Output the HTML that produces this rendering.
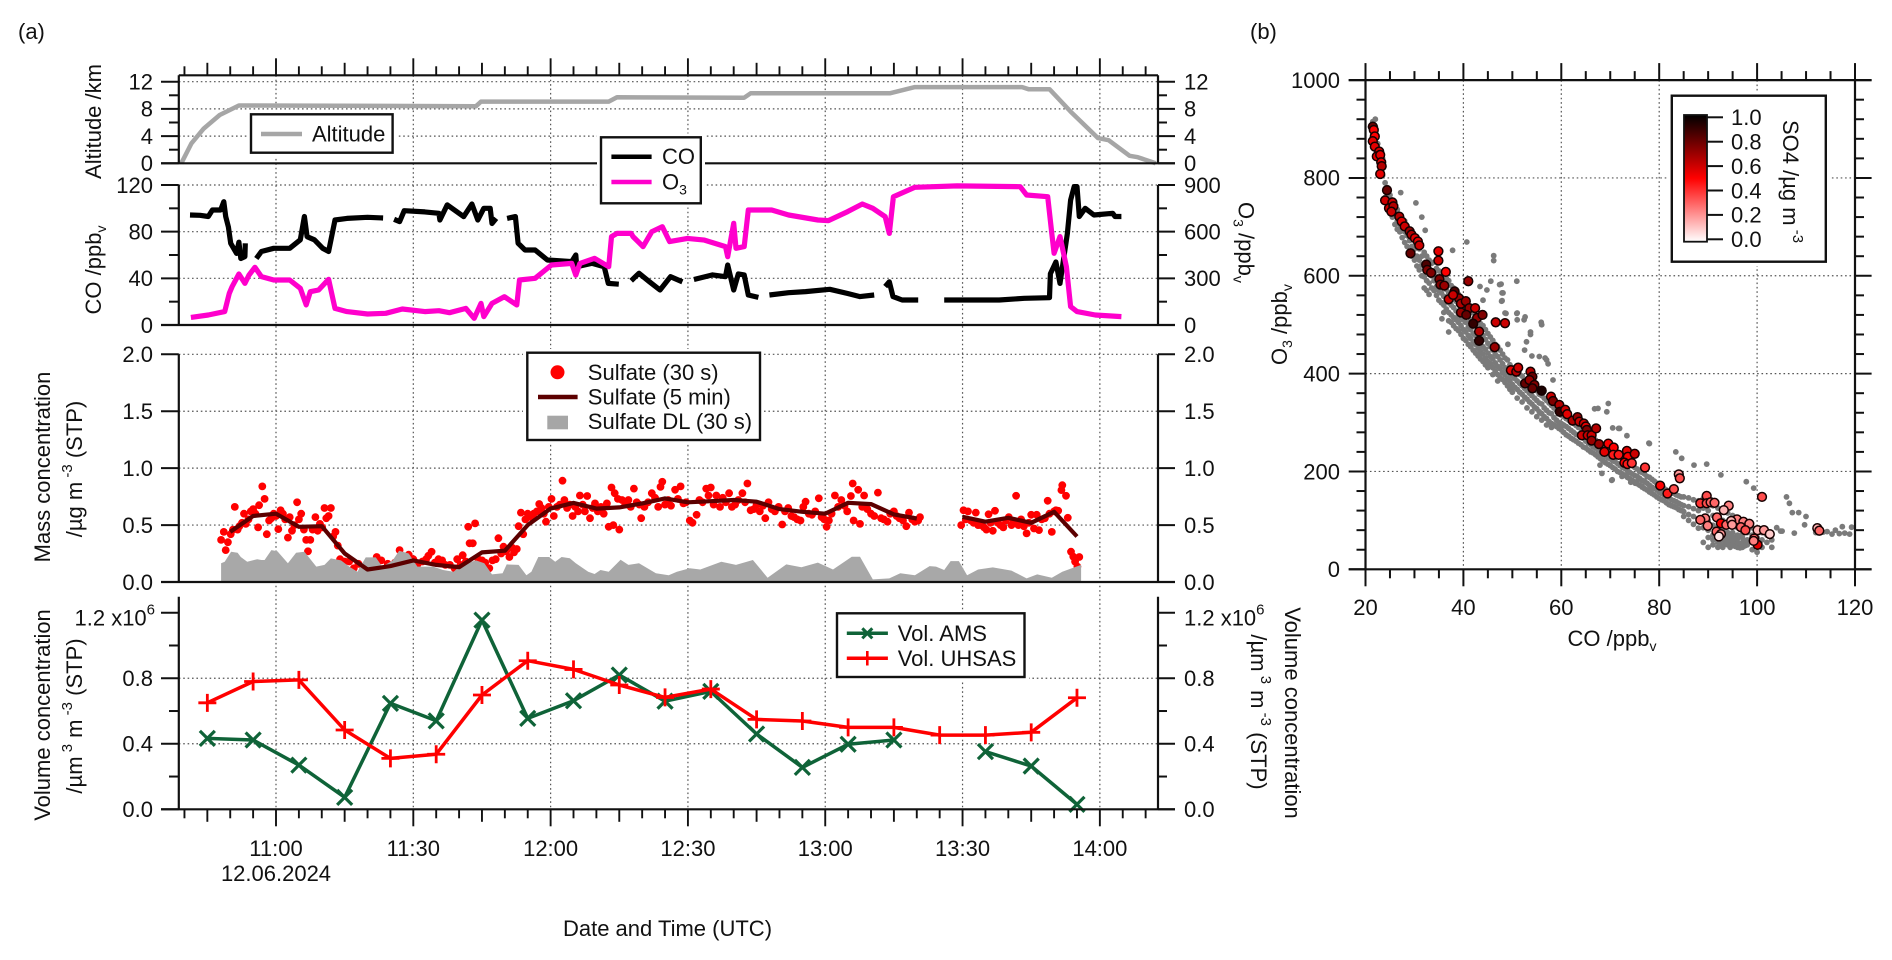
<!DOCTYPE html>
<html lang="en">
<head>
<meta charset="utf-8">
<title>Flight time series and CO-O3 scatter</title>
<style>
html,body{margin:0;padding:0;background:#fff;}
svg{display:block;font-family:"Liberation Sans",Arial,sans-serif;font-size:22px;fill:#111;}
.sub{font-size:14px;}
.sup{font-size:15px;}
.leg{fill:#fff;stroke:#111;stroke-width:2.4;}
.halo{fill:#fff;stroke:none;}
</style>
</head>
<body>
<svg id="chart" width="1892" height="960" viewBox="0 0 1892 960" xmlns="http://www.w3.org/2000/svg">
<rect width="1892" height="960" fill="#fff"/>
<g id="grid"></g>
<g id="marks"></g>
<g id="axes"></g>

<text x="18" y="39">(a)</text>
<text x="1250" y="39">(b)</text>

<text transform="translate(101,121.5) rotate(-90)" text-anchor="middle">Altitude /km</text>
<text transform="translate(101,270) rotate(-90)" text-anchor="middle">CO /ppb<tspan class="sub" dy="5">v</tspan></text>
<text transform="translate(1238.7,202) rotate(90)">O<tspan class="sub" dy="5">3</tspan><tspan dy="-5"> /ppb</tspan><tspan class="sub" dy="5">v</tspan></text>
<text transform="translate(50,467) rotate(-90)" text-anchor="middle">Mass concentration</text>
<text transform="translate(82,469) rotate(-90)" text-anchor="middle">/µg m<tspan class="sup" dy="-10"> -3</tspan><tspan dy="10">  (STP)</tspan></text>
<text transform="translate(50,715) rotate(-90)" text-anchor="middle">Volume concentration</text>
<text transform="translate(82,716) rotate(-90)" text-anchor="middle">/µm<tspan class="sup" dy="-10"> 3</tspan><tspan dy="10">  m</tspan><tspan class="sup" dy="-10"> -3</tspan><tspan dy="10">  (STP)</tspan></text>
<text transform="translate(1285,713) rotate(90)" text-anchor="middle">Volume concentration</text>
<text transform="translate(1251,712) rotate(90)" text-anchor="middle">/µm<tspan class="sup" dy="-10"> 3</tspan><tspan dy="10">  m</tspan><tspan class="sup" dy="-10"> -3</tspan><tspan dy="10">  (STP)</tspan></text>

<text x="74.5" y="625.5">1.2 x10<tspan class="sup" dy="-11">6</tspan></text>
<text x="1184" y="625.5">1.2 x10<tspan class="sup" dy="-11">6</tspan></text>

<text x="667.5" y="936" text-anchor="middle">Date and Time (UTC)</text>
<text x="276" y="881" text-anchor="middle">12.06.2024</text>

<text x="1612" y="646" text-anchor="middle">CO /ppb<tspan class="sub" dy="5">v</tspan></text>
<text transform="translate(1287,365) rotate(-90)">O<tspan class="sub" dy="5">3</tspan><tspan dy="-5"> /ppb</tspan><tspan class="sub" dy="5">v</tspan></text>

<g>
  <rect class="halo" x="247" y="110.5" width="150" height="46"/>
  <rect class="leg" x="251" y="114.3" width="141.6" height="38.4"/>
  <line x1="261" y1="134" x2="302" y2="134" stroke="#a6a6a6" stroke-width="4.5"/>
  <text x="312" y="141.5">Altitude</text>
</g>
<g>
  <rect class="halo" x="597" y="133.5" width="108" height="74"/>
  <rect class="leg" x="601" y="137.3" width="99.8" height="66"/>
  <line x1="611.4" y1="156.7" x2="651.6" y2="156.7" stroke="#000" stroke-width="4.5"/>
  <line x1="611.4" y1="182" x2="651.6" y2="182" stroke="#ff00cc" stroke-width="4.5"/>
  <text x="662" y="164">CO</text>
  <text x="662" y="189.5">O<tspan class="sub" dy="5">3</tspan></text>
</g>
<g>
  <rect class="halo" x="523" y="349" width="241" height="95"/>
  <rect class="leg" x="527.3" y="352.7" width="232.7" height="87.3"/>
  <circle cx="557.5" cy="372.3" r="7" fill="#ff0000"/>
  <line x1="538" y1="397" x2="577.6" y2="397" stroke="#5c0000" stroke-width="4.5"/>
  <rect x="547.3" y="415.7" width="20.7" height="13.6" fill="#a6a6a6"/>
  <text x="587.8" y="380">Sulfate (30 s)</text>
  <text x="587.8" y="404.5">Sulfate (5 min)</text>
  <text x="587.8" y="429">Sulfate DL (30 s)</text>
</g>
<g>
  <rect class="halo" x="833" y="609.5" width="196" height="71"/>
  <rect class="leg" x="837" y="613.3" width="187.5" height="63.7"/>
  <line x1="846.8" y1="633.3" x2="887.9" y2="633.3" stroke="#0f6338" stroke-width="3.5"/>
  <path d="M862.3 628.3L872.3 638.3M872.3 628.3L862.3 638.3" stroke="#0f6338" stroke-width="3" fill="none"/>
  <line x1="846.8" y1="658.3" x2="887.9" y2="658.3" stroke="#ff0000" stroke-width="3.5"/>
  <line x1="867.3" y1="651" x2="867.3" y2="665.5" stroke="#ff0000" stroke-width="2.6"/>
  <text x="897.7" y="641">Vol. AMS</text>
  <text x="897.7" y="666">Vol. UHSAS</text>
</g>
<defs>
  <linearGradient id="so4Gradient" x1="0" y1="1" x2="0" y2="0">
    <stop offset="0" stop-color="#ffffff"/>
    <stop offset="0.5" stop-color="#ff0000"/>
    <stop offset="1" stop-color="#000000"/>
  </linearGradient>
</defs>
<g id="colorbar">
  <rect class="halo" x="1668" y="92" width="162" height="174"/>
  <rect class="leg" x="1671.8" y="95.7" width="154" height="166"/>
  <rect x="1684" y="115" width="23" height="126.7" fill="url(#so4Gradient)" stroke="#111" stroke-width="1.8"/>
  <text transform="translate(1783,120) rotate(90)">SO4 /µg m<tspan class="sup" dy="-10"> -3</tspan></text>
</g>
</svg>

<script>
// ---------- Time axis ----------
var timeTickStart = -20;
var timeTickEnd = 190;
var timeLabels = ["11:00", "11:30", "12:00", "12:30", "13:00", "13:30", "14:00"];
var timeLabelMinutes = [0, 30, 60, 90, 120, 150, 180];

// ---------- Tick labels ----------
var altitudeTicks = [0, 4, 8, 12];
var altitudeMinor = [2, 6, 10];
var coTicks = [0, 40, 80, 120];
var coMinor = [20, 60, 100];
var o3Ticks = [0, 300, 600, 900];
var sulfateTicks = ["0.0", "0.5", "1.0", "1.5", "2.0"];
var volumeTicks = ["0.0", "0.4", "0.8"];
var volumeMinor = [0.2, 0.6, 1.0];
var scatterXTicks = [20, 40, 60, 80, 100, 120];
var scatterXMinor = [25, 30, 35, 45, 50, 55, 65, 70, 75, 85, 90, 95, 105, 110, 115];
var scatterYTicks = [0, 200, 400, 600, 800, 1000];
var scatterYMinor = [40, 80, 120, 160, 240, 280, 320, 360, 440, 480, 520, 560, 640, 680, 720, 760, 840, 880, 920, 960];
var colorbarTicks = ["0.0", "0.2", "0.4", "0.6", "0.8", "1.0"];

// ---------- Series (time = minutes after 11:00) ----------
var altitudeTimes = [-20.7, -18.5, -15.8, -12.3, -8.1, 43.7, 44.8, 72.7, 74.5, 102.3, 103.7, 134.1, 139.6, 163, 164.4, 169, 173.6, 179.6, 181.9, 186.5, 188.3, 192.2];
var altitudeValues = [0, 2.9, 5.1, 7.1, 8.5, 8.4, 9.07, 9.07, 9.7, 9.65, 10.3, 10.3, 11.2, 11.2, 10.9, 10.9, 7.6, 3.7, 3.4, 1.1, 0.9, 0];

var coTimes = [
 -18.8,-16.6,-14.8,-13.9,-12.1,-11.4,-11,-10.4,-9.9,-8.6,
 -8.1,-7.7,-6.8,-6.7,-6,-4.3,-3.2,-0.5,3,5.3,
 6.2,6.8,8.4,10.2,11.5,12.9,15.5,20,23.4,24.5,
 25.8,27,28,32.5,35.6,35.8,37.4,41,42.8,44.1,
 45.4,46.8,47.2,48.1,49.3,50.5,52.3,52.9,54.4,56.6,
 59.3,64.6,65.5,65.7,69,71.7,72.6,74.9,76.2,77.6,
 79.3,81.6,83.9,86.2,88.8,90,91.3,95.4,98.2,98.7,
 100,101,102.3,103.2,105.4,106.5,107.8,112,115.7,121,
 124.9,127.6,130.7,132,133.1,134,134.8,136.8,140.3,143,
 146,158,163.5,169,169.2,170.4,171.3,172.9,173.6,174.4,
 175,175.5,176.8,178.7,182.8,183.3,184.7];
var coValues = [
 94.3,94,93,98.6,98.6,105.7,93,84,70,61.4,
 71,57,58.6,70,null,57,63,65.7,65.7,73,
 93,75.7,73,65.7,63,90,91.4,92.3,91.7,null,
 90.6,88.6,98,96.9,95.7,90,102.9,92.9,103.7,90,
 100,100,87,91.4,null,91.4,92.9,70,64.3,64.3,
 55.7,54.3,60,50,52.9,50,35.7,35,null,38,
 44.3,37,30,41.4,37,null,39,42.9,41.4,51.4,
 30,43.7,42.9,25.7,23.7,null,25.7,27.7,28.6,30.6,
 27,24.3,25.7,null,32.9,37,24.3,21.4,21.4,null,
 21.4,21.4,22.9,23.4,44,54,35.7,78.6,107,118.6,
 118.6,93,100,94.3,95.7,93,93];

var o3Times = [
 -18.6,-14.8,-11.2,-10.2,-9.6,-8.1,-6.8,-5.9,-4.6,-3.2,
 -0.5,3,5.3,6.6,7.5,9.3,11.5,12.9,15.5,20,
 24,27.6,32.5,35.6,37.9,41.5,43.3,44.8,45.4,47.2,
 49.9,52.6,53.2,56.6,58.4,60.2,64.6,65.5,66.4,69.6,
 72.7,73.3,74.5,77.6,78,80.2,82.1,84.4,86,89.9,
 93.6,98.2,98.7,100,100.5,102.3,103.2,108.3,112,118.4,
 120.7,124.9,128.1,130.4,133.1,134,134.9,139.6,148.8,162.6,
 164,168.6,169.5,170,171.3,172.7,173.6,175,179,184.7];
var o3Values = [
 49,64,86,204,246,328,268,321,371,311,
 289,289,236,129,214,225,294,107,86,71,
 75,103,86,92,79,107,43,139,54,139,
 182,129,289,300,343,386,396,321,396,429,
 375,568,589,589,568,504,600,632,536,557,
 546,504,439,654,493,504,739,739,707,675,
 671,729,778,750,696,589,825,885,894,889,
 836,825,589,461,568,375,118,86,64,54];

var sulfate30sTimes = [
 -12,-11.4,-11,-10.5,-9.9,-9.4,-9,-8.4,-8,-7.4,
 -7,-6.6,-6,-5.5,-5,-4.5,-3.9,-3.7,-3,-2.5,
 -2,-1.5,-1,-0.5,0,0.5,1,1.5,2,2.6,
 3,3.5,4,4.6,5,5.5,6.1,6.6,7,7.5,
 8,8.6,9.1,9.6,10.1,10.6,11,11.5,12,12.5,
 13,13.5,14,15,16,17,18,19,20,21,
 22,23,23.7,24.4,25,26,27,28,29,30,
 31,32,32.8,33.3,34,34.7,35.5,36.3,37,38,
 39,39.6,40.3,40.8,41.5,42,42.3,43,43.5,44.2,
 45,45.7,46.6,47.3,48,48.6,49.2,49.7,50.3,51,
 51.6,52,52.6,53,53.5,54,54.5,55,55.7,56.3,
 57,57.5,58,58.5,59,59.6,60.2,60.7,61.4,62,
 62.6,63,63.6,64.2,64.8,65.4,66,66.4,67,67.5,
 68,68.6,69.2,69.7,70.3,71,71.6,72.3,72.7,73.3,
 73.7,74,74.7,75,75.6,76.3,77,77.5,78.2,78.8,
 79.4,79.8,80.5,81.3,82.1,82.8,83.5,84,84.4,85,
 85.7,86.3,87.2,87.8,88.4,89,89.6,90.4,91,91.9,
 92.5,93.2,94,94.5,95,95.6,96.2,97,97.6,98.3,
 99,99.6,100.3,101,101.9,102.5,103,103.7,104.4,105,
 105.7,106.4,106.9,107.6,108.3,109,109.8,110.6,111.2,111.9,
 112.6,113.2,113.9,114.6,115.2,115.7,116.4,117.1,117.8,118.6,
 119.2,119.8,120.3,120.8,121.4,122.1,122.8,123.5,124.2,124.8,
 125.6,126,126.2,127.2,127.6,128.1,128.5,129.2,130,130.7,
 131.5,132.2,132.8,133.6,134.2,135,135.6,136.2,137,137.7,
 138.3,139,139.6,140.3,140.7,149.7,150.2,150.7,151.2,151.8,
 152.4,152.9,153.4,154,154.7,155.2,155.7,156.1,156.6,157.1,
 157.7,158.3,158.9,159.5,160.1,160.7,161.2,161.7,162.2,162.8,
 163.4,164,164.5,165,165.6,166.2,166.7,167.3,168,168.6,
 169,169.5,170,170.4,170.9,171.6,171.8,172.6,173,173.7,
 174.2,174.6,175.1,175.5];
var sulfate30sValues = [
 .37,.44,.28,.35,.42,.46,.66,.46,.49,.52,
 .60,.51,.55,.62,.64,.60,.48,.675,.84,.73,
 .42,.54,.56,.60,.58,.465,.63,.60,.55,.39,
 .57,.45,.50,.70,.55,.60,.46,.37,.27,.37,
 .46,.57,.45,.51,.48,.65,.56,.58,.65,.40,
 .44,.32,.20,.18,.18,.12,.16,.11,.11,.15,
 .22,.19,.09,.16,.14,.17,.28,.21,.24,.20,
 .16,.18,.2,.23,.265,.17,.2,.19,.15,.15,
 .12,.2,.15,.235,.18,.485,.34,.34,.515,.2,
 .19,.17,.12,.19,.2,.385,.25,.31,.27,.22,
 .3,.26,.29,.49,.61,.42,.55,.60,.57,.60,
 .62,.685,.65,.60,.53,.66,.73,.58,.66,.68,
 .89,.72,.65,.68,.58,.66,.62,.76,.68,.62,
 .755,.56,.65,.69,.62,.66,.60,.69,.485,.83,
 .50,.78,.73,.46,.72,.68,.72,.66,.82,.70,
 .68,.56,.66,.70,.78,.74,.66,.835,.88,.68,
 .72,.67,.81,.73,.84,.69,.70,.54,.52,.59,
 .72,.70,.82,.76,.83,.68,.76,.66,.74,.70,
 .78,.66,.68,.72,.78,.70,.865,.63,.64,.68,
 .62,.67,.56,.70,.64,.62,.66,.505,.62,.65,
 .58,.57,.55,.54,.66,.705,.60,.59,.62,.735,
 .57,.55,.485,.54,.60,.76,.66,.72,.67,.62,
 .755,.865,.54,.81,.51,.66,.76,.64,.60,.58,
 .785,.56,.55,.53,.60,.62,.58,.56,.54,.49,
 .61,.55,.53,.54,.57,.50,.63,.55,.62,.54,
 .52,.61,.50,.50,.48,.46,.595,.52,.45,.625,
 .52,.50,.48,.54,.57,.50,.53,.757,.50,.55,
 .49,.427,.52,.59,.47,.59,.456,.55,.56,.713,
 .60,.44,.62,.63,.625,.807,.85,.757,.564,.266,
 .222,.178,.135,.22];

var sulfate5minTimes = [-10,-5,0,5,10,15,20,25,30,35,40,45,50,55,60,65,70,75,80,85,90,95,100,105,110,115,120,125,130,135,140,145,150,155,160,165,170,175];
var sulfate5minValues = [.44,.58,.60,.485,.49,.25,.11,.14,.19,.15,.13,.26,.275,.50,.645,.695,.645,.655,.69,.734,.70,.71,.72,.705,.64,.617,.60,.696,.684,.594,.558,null,.573,.53,.564,.52,.617,.40];

var sulfateDlTimes = [
 -12,-11.2,-9.8,-8.4,-7.7,-6.3,-4.1,-3.2,-2.5,-1,
 0.3,2.6,4.4,6.2,8.8,10.6,12,14.2,16,17.8,
 19.6,21.8,23.2,25.5,26.9,29,30.9,34.3,36.5,38.8,
 40.5,43.7,45.5,47.2,49.5,50.4,53,54.7,55.8,57.3,
 59.7,61,62.4,64.2,65.5,68.2,69.6,70.9,72.7,75.3,
 77,79.3,83,85.8,87.6,90.4,92.7,97.3,100.5,104.2,
 107.4,111.5,114.8,118.4,121.7,125.8,127.6,130.4,134,136.4,
 139.6,142.8,144.2,146,147.4,149.2,151,153.4,156.6,160.7,
 164,166.3,169.5,171.8,175.9];
var sulfateDlValues = [
 .164,.178,.266,.257,.22,.178,.2,.193,.193,.28,
 .27,.164,.257,.266,.135,.15,.207,.19,.135,.09,
 .216,.216,.135,.19,.275,.25,.135,.135,.105,.09,
 .15,.19,.165,.067,.076,.155,.15,.06,.09,.22,
 .22,.178,.22,.208,.164,.09,.07,.105,.09,.195,
 .15,.164,.076,.06,.09,.12,.11,.178,.15,.193,
 .038,.155,.13,.17,.11,.222,.222,.023,.032,.076,
 .06,.14,.135,.105,.184,.184,.06,.11,.128,.1,
 .032,.067,.038,.09,.15];

var volumeTimes = [-15,-5,5,15,25,35,45,55,65,75,85,95,105,115,125,135,145,155,165,175];
var volumeAms = [.433,.423,.27,.073,.647,.54,1.155,.555,.663,.82,.66,.72,.46,.256,.397,.423,null,.352,.264,.03];
var volumeUhsas = [.65,.78,.79,.484,.311,.336,.698,.907,.854,.759,.683,.734,.549,.539,.50,.50,.453,.453,.47,.681];

// ---------- Scatter (b) ----------
var grayRowCo = [
 21.5,22,22.5,23,23.5,
 24,24.5,25,25.5,26,26.5,27,27.5,28,28.5,29,29.5,30,30.5,31,31.5,32,32.5,33,33.5,
 34,34.5,35,35.5,36,36.5,37,37.5,38,38.5,39,39.5,40,40.5,41,41.5,42,42.5,43,43.5,
 44,44.5,45,45.5,46,46.5,47,47.5,48,48.5,49,49.5,50,50.5,51,51.5,52,52.5,53,53.5,
 54,54.5,55,55.5,56,56.5,57,57.5,58,58.5,59,59.5,60,60.5,61,61.5,62,62.5,63,63.5,
 64,64.5,65,65.5,66,66.5,67,67.5,68,68.5,69,69.5,70,70.5,71,71.5,72,72.5,73,73.5,
 74,74.5,75,75.5,76,76.5,77,77.5,78,78.5,79,79.5,80,80.5,81,81.5,82,82.5,83,83.5,
 84,84.5,85,86,87,88,89,90,91,92,92.5,93,93.5,94,94.5,95,95.5,96,96.5,97,97.5,98,99,100,101,102,103];
var grayRowO3 = [
 [915,895],[920,905,885],[870,850],[830,815],[840,805],
 [790,775,760],[780,760,745],[765,750,735],[755,735,720],[745,728,705],[735,712,695],[725,705,690],[715,700,678],[712,690,668],[700,682,660],[695,672,650],[682,660,640],[675,655,632],[665,640,620],[655,632,612],[640,622,600],[648,620,598,575],[640,612,590,570],[632,605,585,562],[625,600,575],
 [628,605,590,570],[615,598,578,560],[610,590,570,550],[605,582,565,545],[600,578,558,540,525],[595,572,550,532],[590,565,545,525,508],[580,558,540,520,505],[575,552,535,515,498],[568,548,528,510,492],[562,542,520,505,488],[555,535,515,498,480],[548,530,510,490,472],[545,522,505,485,468],[538,518,495,478,460],[530,510,490,472,455],[525,505,482,465,448],[518,498,478,460,442],[510,490,470,452,436],[502,485,462,445,430],
 [498,478,455,440,425],[490,470,450,432,418],[482,462,442,425,412],[475,455,435,420],[468,448,430,412,398],[460,440,422,405],[455,435,415,398,385],[448,428,410,392],[440,420,402,388],[432,412,398,382],[428,405,390,375],[418,400,385,368],[412,395,378,362],[408,390,372],[402,385,368,350],[398,380,362],[395,375,358,342],[388,370,352],[385,365,348,330],[378,360,342],
 [375,355,338,322],[368,350,332],[365,345,328,312],[358,340,322],[355,338,318,305],[350,330,312],[345,325,308,295],[340,320,302],[335,318,298,290],[330,310,295],[325,305,292],[320,300,288],[315,298,285,292],[312,295,280],[308,292,275],[305,288,272],[300,284,268],[298,280,265],[294,276,262],[290,274,258],
 [288,270,255],[284,268,250],[280,262,248],[278,258,244],[272,255,240],[268,250,238],[264,248,234],[260,244,230],[256,240,226],[252,236,222],[250,232,218],[246,228,215],[242,226,212],[240,222,208],[236,220,205],[232,216,200],[230,212,198],[226,208,195],[222,206,192],[218,202,188],
 [215,198,185],[212,195,182],[208,192,178],[205,190,175],[200,186,172],[198,182,168],[195,180,165],[190,176,162],[188,172,158],[184,168,155],[180,165,152],[176,162,148],[172,158,145],[168,155,142],[165,152,140],[162,150,136],[160,146,132],[158,142,130],[155,140,128],[152,138,126],
 [150,135,122],[148,132,120],[148,130,118,108],[146,128,112,100],[142,124,108,92],[140,120,100,84],[145,125,105,85,55],[140,120,100,80,65,45],[130,110,90,70,50,60],[125,105,85,65,45,55],[58,50],[120,100,80,60,45,70],[66,52],[115,95,75,60,50,68],[68,55,45],[110,90,75,60,50,67],[65,55,47],[105,85,70,55,45,62],[66,52,44],[100,80,65,55,45,72],[58,48],[90,75,60,50],[85,70,55,40],[80,65,50,35],[75,60,45],[70,55],[60,45]];

var grayOutlierCo = [
 27.2,30.3,31.5,32.2,40.7,46.2,46.2,50.9,47.4,47.9,
 47.9,48.7,50.9,52.4,56,53.7,57,58.3,67.5,69.6,
 71.7,78,83.4,84.6,87.1,89.7,92.6,97.8,99.3,106,
 106.6,107.2,108.5,110,109.7,107.6,105.1,114.3,116,117.4,
 119.3,118.9,116.8,67.9,70.4,73.3,75.4,68.3,55.5,57.3,
 104,104.8,115.3,112,113.5,117.9,37.8,45.6,47.7,44.8,
 48.1,47.8,43.4,44,48.5,51,52.6,51,53.7,52.9,
 49.1,52.5,54,55.9,56.7,35.6,37,69.3,66.8,49.9,
 70.5,71.9,73.4,77.9,70.3,75.1,78.5,72.4,74.2,76.5];
var grayOutlierO3 = [
 770,749,720,693,669,641,631,589,582,565,
 549,523,523,510,500,480,428,387,329,339,
 288,257,240,227,213,215,193,179,166,148,
 135,116,116,108,91,74,78,77,80,87,
 86,72,73,213,183,193,179,196,435,420,
 85,78,72,75,76,74,652,589,583,571,
 565,548,578,550,524,524,516,510,485,465,
 460,448,436,505,432,512,485,322,328,373,
 289,288,273,258,182,176,166,190,178,170];

var so4Co = [
 21.5,21.7,21.9,21.5,21.9,22.8,22.3,23,23.2,23.3,
 23,24.4,24,25.5,24.8,25.7,25.3,26.9,27.4,28,
 29,29.4,30.1,30.7,31,29.2,34.9,34.9,32.4,32.6,
 33.4,36.4,35.1,35.3,36.1,41,38.2,39.1,37,37.9,
 39.5,40.5,39.5,41.2,40.6,42.4,42.8,43.9,42,46.6,
 48.5,43.2,43.2,46.4,49.7,50.8,51.2,52.6,53.7,54.1,
 53.5,54.5,54.1,56,57.9,58.3,59.6,59.7,60.8,61.2,
 62.3,63.3,63.7,64.6,65,65.2,64.2,65.4,66.2,67.1,
 66.2,67.7,69.6,70.7,68.8,70.6,71.7,73.4,73.6,75,
 72.9,73.5,74.4,77.1,84,84.2,80.2,81.7,83,89.7,
 88.4,89.7,90.5,91.3,101,94.2,93.2,91.8,89.4,88.4,
 89.9,92.6,93.7,95.9,94.7,97.2,94.9,96.7,98.4,97.6,
 100.1,101.4,102.6,91.7,92.6,92.2,99.4,100.1,99.3,112.3,
 112.7];
var so4O3 = [
 905,898,885,875,864,854,844,847,832,824,
 808,775,754,750,738,742,731,721,711,701,
 691,684,677,670,662,646,650,631,623,612,
 606,608,593,582,580,589,568,554,552,561,
 543,548,525,534,520,534,514,520,502,505,
 503,486,467,454,407,404,412,380,404,394,
 387,377,370,365,353,344,336,322,326,317,
 304,311,302,298,292,285,274,274,274,288,
 263,256,257,249,240,234,234,242,230,236,
 218,215,217,208,194,186,171,155,164,150,
 135,135,137,136,148,130,121,106,104,101,
 89,94,91,102,99,97,91,86,93,80,
 80,80,72,77,72,67,63,50,58,84,
 79];
var so4Values = [
 .8,.5,.5,.55,.55,.6,.55,.55,.55,.65,
 .55,.8,.6,.6,.6,.65,.6,.65,.55,.6,
 .7,.65,.55,.55,.6,.8,.55,.6,.85,.75,
 .75,.5,.75,.75,.7,.7,.85,.7,.6,.6,
 .65,.7,.7,.7,.8,.6,.7,.75,.9,.6,
 .6,.65,.9,.7,.55,.65,.6,.8,.65,.8,
 .7,.75,.8,.95,.6,.75,.65,.9,.6,.55,
 .65,.7,.6,.6,.55,.75,.6,.6,.6,.65,
 .7,.7,.5,.5,.55,.45,.45,.55,.5,.6,
 .5,.45,.4,.4,.2,.35,.5,.45,.35,.35,
 .4,.35,.3,.3,.35,.25,.15,.3,.25,.3,
 .25,.5,.3,.25,.15,.25,.2,.3,.25,.35,
 .15,.2,.1,.3,.2,.05,.3,.55,.25,.15,
 .3];

// ---------- Axis functions ----------
function xTime(t) { return 276 + 4.577 * t; }
function yAltitude(v) { return 163.3 - v * 6.8; }
function yCo(v) { return 325 - v * 140 / 120; }
function yO3(v) { return 325 - v * 140 / 900; }
function ySulfate(v) { return 582 - v * 113.85; }
function yVolume(v) { return 809.3 - v * 163.8; }
function xScatter(co) { return 1365.5 + (co - 20) * 4.895; }
function yScatter(o3) { return 569.3 - o3 * 0.4892; }
function yColorbar(v) { return 239.3 - v * 122; }

var NS = 'http://www.w3.org/2000/svg';
var gridLayer = document.getElementById('grid');
var marksLayer = document.getElementById('marks');
var axesLayer = document.getElementById('axes');
var colorbarLayer = document.getElementById('colorbar');

function add(tag, parent, attrs) {
  var n = document.createElementNS(NS, tag);
  for (var k in attrs) { n.setAttribute(k, attrs[k]); }
  parent.appendChild(n);
  return n;
}
function tickLine(x1, y1, x2, y2, w) {
  var el = add('line', axesLayer, {x1: x1, y1: y1, x2: x2, y2: y2, stroke: '#111', 'stroke-width': w});
  
  
}
function axisLine(x1, y1, x2, y2) {
  var el = add('line', axesLayer, {x1: x1, y1: y1, x2: x2, y2: y2, stroke: '#111', 'stroke-width': 2.2});
  
  
}
function gridLine(x1, y1, x2, y2) {
  var el = add('line', gridLayer, {x1: x1, y1: y1, x2: x2, y2: y2, stroke: '#555', 'stroke-width': 1.2, 'stroke-dasharray': '1.6 2.8'});
  
  
}
function tickLabel(x, y, anchor, str) {
  var el = add('text', axesLayer, {x: x, y: y, 'text-anchor': anchor});
  el.textContent = str;
  
  
}
function lineD(ts, vs, fx, fy) {
  var d = '', pen = false;
  for (var i = 0; i < ts.length; i++) {
    if (vs[i] === null) { pen = false; continue; }
    d += (pen ? 'L' : 'M') + fx(ts[i]).toFixed(1) + ' ' + fy(vs[i]).toFixed(1);
    pen = true;
  }
  return d;
}
function strokeStyle(color, w) {
  return {fill: 'none', stroke: color, 'stroke-width': w, 'stroke-linejoin': 'round', 'stroke-linecap': 'butt'};
}
function so4Color(v) {
  var c = Math.max(0, Math.min(1, v));
  if (c <= 0.5) { var g = Math.round(255 * (1 - c / 0.5)); return 'rgb(255,' + g + ',' + g + ')'; }
  return 'rgb(' + Math.round(255 * (1 - (c - 0.5) / 0.5)) + ',0,0)';
}

// ---------- Panel frames ----------
var LEFT = 178.8, RIGHT = 1158;
axisLine(LEFT, 75.3, RIGHT, 75.3);
axisLine(LEFT, 75.3, LEFT, 163.3);
axisLine(RIGHT, 75.3, RIGHT, 163.3);
axisLine(161, 163.3, 1175, 163.3);
axisLine(LEFT, 185, LEFT, 325);
axisLine(RIGHT, 185, RIGHT, 325);
axisLine(161, 325, 1175, 325);
axisLine(LEFT, 354.3, LEFT, 582);
axisLine(RIGHT, 354.3, RIGHT, 582);
axisLine(161, 582, 1175, 582);
axisLine(LEFT, 596.7, LEFT, 809.3);
axisLine(RIGHT, 596.7, RIGHT, 809.3);
axisLine(161, 809.3, 1175, 809.3);

// ---------- Time ticks ----------
for (var t = timeTickStart; t <= timeTickEnd; t += 5) {
  var len = (t % 30 === 0) ? 17 : (t % 15 === 0 ? 12.5 : 9);
  var tx = xTime(t);
  tickLine(tx, 75.3, tx, 75.3 - len, 1.9);
  tickLine(tx, 809.3, tx, 809.3 + len, 1.9);
}
for (var i = 0; i < timeLabels.length; i++) {
  var lx = xTime(timeLabelMinutes[i]);
  gridLine(lx, 75.3, lx, 809.3);
  tickLabel(lx, 856, 'middle', timeLabels[i]);
}

// ---------- Left/right y ticks ----------
function yTicks(values, minor, fy, rightLabels, showLeftText, showRightText) {
  values.forEach(function (v, i) {
    var n = parseFloat(v), y = fy(n);
    tickLine(161, y, LEFT, y, 2);
    tickLine(RIGHT, y, 1175, y, 2);
    gridLine(LEFT, y, RIGHT, y);
    if (showLeftText) { tickLabel(153, y + 7.8, 'end', String(v)); }
    if (showRightText) { tickLabel(1184, y + 7.8, 'start', String(rightLabels[i])); }
  });
  minor.forEach(function (v) {
    var y = fy(v);
    tickLine(169, y, LEFT, y, 2);
    tickLine(RIGHT, y, 1167, y, 2);
  });
}
yTicks(altitudeTicks, altitudeMinor, yAltitude, altitudeTicks, true, true);
yTicks(coTicks, coMinor, yCo, o3Ticks, true, true);
yTicks(sulfateTicks, [], ySulfate, sulfateTicks, true, true);
yTicks(volumeTicks, volumeMinor, yVolume, volumeTicks, true, true);
(function () {
  var y = yVolume(1.2);
  tickLine(161, y, LEFT, y, 2);
  tickLine(RIGHT, y, 1175, y, 2);
})();

// ---------- Series ----------
var altPath = add('path', marksLayer, strokeStyle('#a6a6a6', 4.5));
altPath.setAttribute('d', lineD(altitudeTimes, altitudeValues, xTime, yAltitude));



var coPath = add('path', marksLayer, strokeStyle('#000000', 5.2));
coPath.setAttribute('d', lineD(coTimes, coValues, xTime, yCo));



var o3Path = add('path', marksLayer, strokeStyle('#ff00cc', 5.2));
o3Path.setAttribute('d', lineD(o3Times, o3Values, xTime, yO3));



var dotCount = Math.min(sulfate30sTimes.length, sulfate30sValues.length);
for (var d = 0; d < dotCount; d++) {
  var dot = add('circle', marksLayer, {cx: xTime(sulfate30sTimes[d]).toFixed(1), cy: ySulfate(sulfate30sValues[d]).toFixed(1), r: 3.9, fill: '#ff0000'});
  
  
}

var dlD = 'M' + xTime(sulfateDlTimes[0]).toFixed(1) + ' ' + ySulfate(0);
for (var a = 0; a < sulfateDlTimes.length; a++) {
  dlD += 'L' + xTime(sulfateDlTimes[a]).toFixed(1) + ' ' + ySulfate(sulfateDlValues[a]).toFixed(1);
}
dlD += 'L' + xTime(sulfateDlTimes[sulfateDlTimes.length - 1]).toFixed(1) + ' ' + ySulfate(0) + 'Z';
var dlArea = add('path', marksLayer, {d: dlD, fill: '#a8a8a8'});



var s5Path = add('path', marksLayer, strokeStyle('#5c0000', 4.2));
s5Path.setAttribute('d', lineD(sulfate5minTimes, sulfate5minValues, xTime, ySulfate));



var amsPath = add('path', marksLayer, strokeStyle('#0f6338', 3.5));
amsPath.setAttribute('d', lineD(volumeTimes, volumeAms, xTime, yVolume));


for (var m = 0; m < volumeTimes.length; m++) {
  if (volumeAms[m] === null) { continue; }
  var ax = xTime(volumeTimes[m]), ay = yVolume(volumeAms[m]);
  var cross = add('path', marksLayer, {d: 'M' + (ax - 7.5) + ' ' + (ay - 7.5) + 'L' + (ax + 7.5) + ' ' + (ay + 7.5) + 'M' + (ax + 7.5) + ' ' + (ay - 7.5) + 'L' + (ax - 7.5) + ' ' + (ay + 7.5), fill: 'none', stroke: '#0f6338', 'stroke-width': 3.2});
  
  
}

var uhsasPath = add('path', marksLayer, strokeStyle('#ff0000', 3.5));
uhsasPath.setAttribute('d', lineD(volumeTimes, volumeUhsas, xTime, yVolume));


for (var u = 0; u < volumeTimes.length; u++) {
  var ux = xTime(volumeTimes[u]), uy = yVolume(volumeUhsas[u]);
  var plus = add('path', marksLayer, {d: 'M' + (ux - 9) + ' ' + uy + 'L' + (ux + 9) + ' ' + uy + 'M' + ux + ' ' + (uy - 9) + 'L' + ux + ' ' + (uy + 9), fill: 'none', stroke: '#ff0000', 'stroke-width': 2.8});
  
  
}

// ---------- Scatter panel ----------
var SL = xScatter(20), SR = xScatter(120), ST = yScatter(1000), SB = yScatter(0);
axisLine(1348.7, ST, 1871.6, ST);
axisLine(1348.7, SB, 1871.6, SB);
axisLine(SL, ST, SL, SB);
axisLine(SR, ST, SR, SB);
scatterXTicks.forEach(function (v) {
  var x = xScatter(v);
  tickLine(x, ST, x, ST - 17, 2);
  tickLine(x, SB, x, SB + 17, 2);
  if (v > 20 && v < 120) { gridLine(x, ST, x, SB); }
  tickLabel(x, 615, 'middle', String(v));
});
scatterXMinor.forEach(function (v) {
  var x = xScatter(v);
  tickLine(x, ST, x, ST - 9, 2);
  tickLine(x, SB, x, SB + 9, 2);
});
scatterYTicks.forEach(function (v) {
  var y = yScatter(v);
  tickLine(1348.7, y, SL, y, 2);
  tickLine(SR, y, 1871.6, y, 2);
  if (v > 0 && v < 1000) { gridLine(SL, y, SR, y); }
  tickLabel(1340, y + 7.8, 'end', String(v));
});
scatterYMinor.forEach(function (v) {
  var y = yScatter(v);
  tickLine(1356.5, y, SL, y, 2);
  tickLine(SR, y, 1864, y, 2);
});

var rowCount = Math.min(grayRowCo.length, grayRowO3.length);
for (var r = 0; r < rowCount; r++) {
  var row = grayRowO3[r];
  for (var q = 0; q < row.length; q++) {
    var gp = add('circle', marksLayer, {cx: xScatter(grayRowCo[r]).toFixed(1), cy: yScatter(row[q]).toFixed(1), r: 2.9, fill: '#7a7a7a'});
    
    
  }
}
var outlierCount = Math.min(grayOutlierCo.length, grayOutlierO3.length);
for (var o = 0; o < outlierCount; o++) {
  var op = add('circle', marksLayer, {cx: xScatter(grayOutlierCo[o]).toFixed(1), cy: yScatter(grayOutlierO3[o]).toFixed(1), r: 2.9, fill: '#7a7a7a'});
  
  
}
var so4Count = Math.min(so4Co.length, so4O3.length, so4Values.length);
for (var s = 0; s < so4Count; s++) {
  var sp = add('circle', marksLayer, {cx: xScatter(so4Co[s]).toFixed(1), cy: yScatter(so4O3[s]).toFixed(1), r: 4.4, fill: so4Color(so4Values[s]), stroke: '#150000', 'stroke-width': 1.5});
  
  
}

// ---------- Colorbar ticks ----------
colorbarTicks.forEach(function (v) {
  var y = yColorbar(parseFloat(v));
  var tl = add('line', colorbarLayer, {x1: 1707, y1: y, x2: 1723, y2: y, stroke: '#111', 'stroke-width': 2});
  
  
  var lb = add('text', colorbarLayer, {x: 1731, y: y + 7.8});
  lb.textContent = v;
  
  
});
</script>
</body>
</html>
